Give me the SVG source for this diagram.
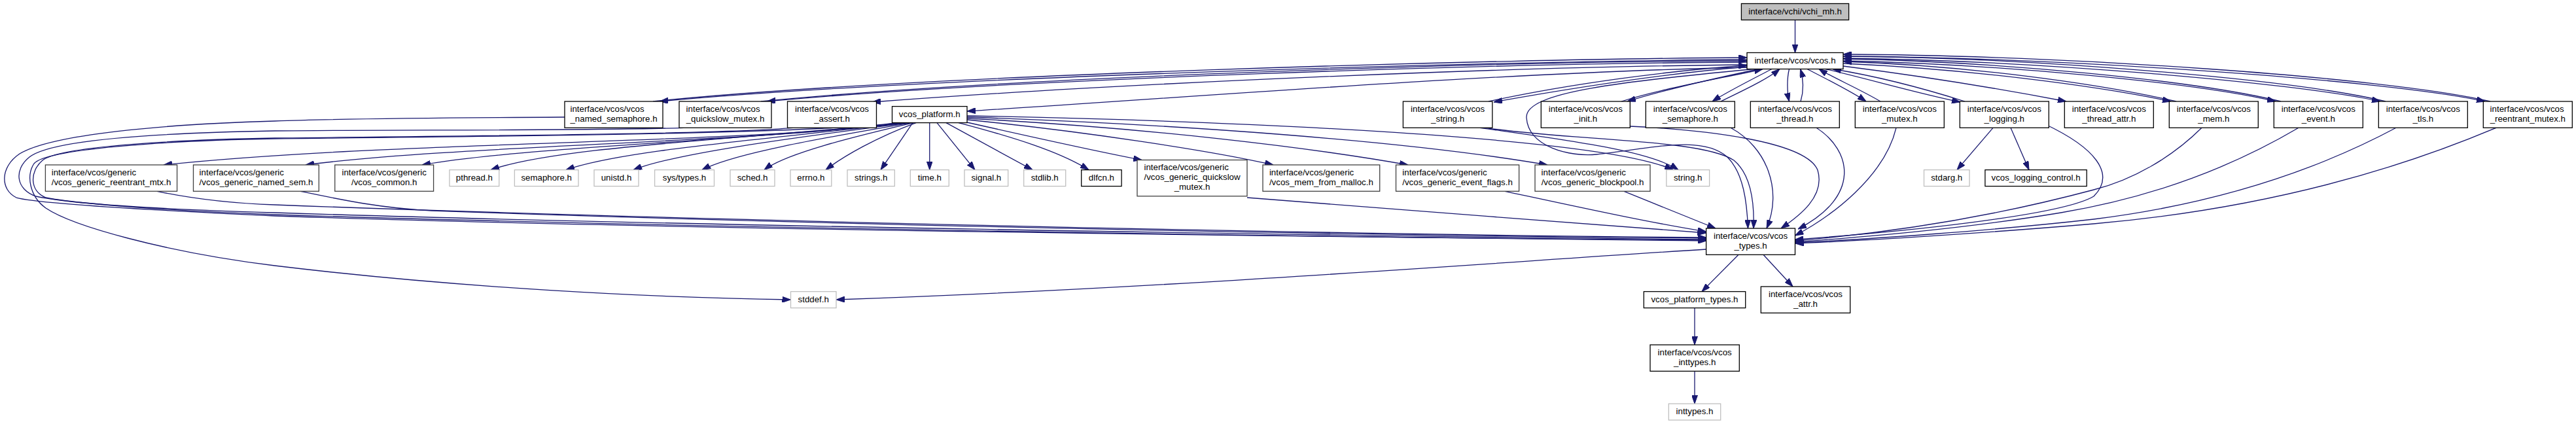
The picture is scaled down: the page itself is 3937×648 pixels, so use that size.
<svg xmlns="http://www.w3.org/2000/svg" width="3937" height="648" viewBox="0 0 3937 648">
<style>
rect{fill:#fff;stroke:#000;stroke-width:1.3}
.x rect{stroke:#bfbfbf}
.g rect{stroke:#404040}
.root rect{fill:#bfbfbf}
text{font-family:"Liberation Sans",Arial,Helvetica,sans-serif;font-size:13.3px;fill:#000}
.m{text-anchor:middle}
#edges path{fill:none;stroke:#191970;stroke-width:1.3;marker-end:url(#ah)}
</style>
<defs>
<marker id="ah" markerWidth="13" markerHeight="9" refX="13" refY="4.5" orient="auto" markerUnits="userSpaceOnUse"><path d="M0,0 L13,4.5 L0,9 z" fill="#191970" stroke="#191970" stroke-width="1"/></marker>
</defs>
<rect x="0" y="0" width="3937" height="648" style="fill:#fff;stroke:none"/>
<g id="edges">
<path d="M2743.5,30.5 V80.5"/>
<path d="M2670,91 C2300,93 1400,118 1008,155"/>
<path d="M998,155 C1400,114 2300,90 2670,88"/>
<path d="M2670,95 C2300,97 1550,120 1172,155"/>
<path d="M1163,155 C1550,117 2300,94 2670,93"/>
<path d="M2670,99 C2300,102 1700,128 1333,156"/>
<path d="M2670,103 C2300,110 1800,150 1478,170"/>
<path d="M2670,102 C2550,112 2400,135 2283,156"/>
<path d="M2275,155 C2400,128 2550,108 2670,100"/>
<path d="M2688,105.5 C2620,120 2540,138 2487,155"/>
<path d="M2478,155 C2540,135 2640,118 2694,105.5"/>
<path d="M2708,105.5 C2680,120 2640,140 2617,155"/>
<path d="M2630,155 C2660,140 2700,122 2720,105.5"/>
<path d="M2734.5,105.5 C2731,120 2731,140 2734.5,155"/>
<path d="M2752,155 C2757,138 2756,120 2751.5,105.5"/>
<path d="M2762,105.5 C2790,120 2830,140 2852,155"/>
<path d="M2874,155 C2840,135 2800,118 2780,105.5"/>
<path d="M2790,105.5 C2860,122 2940,145 2996,156"/>
<path d="M3003,155 C2930,132 2860,115 2801,105.5"/>
<path d="M2817,101 C2950,118 3080,140 3158,155"/>
<path d="M2817,97 C3000,105 3200,130 3318,155"/>
<path d="M3326,155 C3200,126 3000,100 2817,94"/>
<path d="M2817,93 C3050,98 3350,125 3478,155"/>
<path d="M3486,155 C3350,122 3050,94 2817,90"/>
<path d="M2817,89 C3100,92 3500,125 3638,155"/>
<path d="M3646,155 C3500,120 3100,88 2817,86"/>
<path d="M2817,86 C3150,88 3650,122 3798,155"/>
<path d="M3806,155 C3650,118 3150,84 2817,83"/>
<path d="M2680,105.5 C2480,125 2330,140 2333,180 C2336,225 2400,240 2440,236 C2520,228 2600,205 2640,240 C2665,265 2670,310 2671.5,349"/>
<path d="M2270,195.3 C2400,215 2600,212 2650,245 C2680,270 2681,320 2680,349"/>
<path d="M2262,195.3 C2400,215 2520,230 2565,259.6"/>
<path d="M2491,193 C2600,198 2760,215 2778,260 C2790,300 2750,330 2722,349"/>
<path d="M2645,195.3 C2700,225 2725,290 2700,349"/>
<path d="M2776,195.3 C2830,230 2845,300 2748,350"/>
<path d="M2898,195.3 C2880,270 2800,330 2743.5,360"/>
<path d="M3046,195.3 L2991,259.6"/>
<path d="M3073,195.3 L3101,259.6"/>
<path d="M3126,190 C3200,225 3235,265 3200,300 C3150,330 2900,355 2743.5,366"/>
<path d="M3365,195.3 C3320,240 3260,275 3200,290 C3050,330 2900,355 2743.5,368"/>
<path d="M3513,195.3 C3420,250 3300,300 3150,325 C3000,350 2850,362 2743.5,370"/>
<path d="M3662,195.3 C3550,255 3400,310 3200,335 C3050,352 2850,366 2743.5,371"/>
<path d="M3815,195.3 C3650,265 3450,320 3200,342 C3050,355 2850,368 2743.5,372"/>
<path d="M863,179 C650,180 500,182 420,185 C250,190 80,205 30,235 C0,255 0,290 25,302 C60,312 250,322 420,330 C1000,350 2000,362 2607.6,367"/>
<path d="M1045,195.3 C900,200 600,198 420,200 C250,203 80,212 45,240 C20,260 25,290 55,300 C100,310 250,322 420,328 C1000,347 2000,362 2607.6,368"/>
<path d="M1212,195.3 C1100,205 700,208 420,211 C250,214 90,225 65,245 C45,262 45,292 70,302 C120,312 250,320 420,325 C1000,344 2000,360 2607.6,366"/>
<path d="M1370,187.6 C1250,205 700,209 420,212 C250,215 70,228 52,250 C40,268 45,300 70,318 C110,345 250,385 420,406 C700,440 1000,455 1208.5,458"/>
<path d="M1372,187.6 C1150,220 600,215 250,252"/>
<path d="M1378,187.6 C1150,218 700,222 467,252"/>
<path d="M1382,187.6 C1100,218 800,225 645,252"/>
<path d="M1385,187.6 C1100,215 850,225 750,259.6"/>
<path d="M1388,187.6 C1150,215 950,230 865,259.6"/>
<path d="M1390,187.6 C1200,212 1030,235 968,259.6"/>
<path d="M1393,187.6 C1250,212 1120,235 1073,259.6"/>
<path d="M1396,187.6 C1300,210 1200,235 1168,259.6"/>
<path d="M1400,187.6 C1340,210 1290,238 1262,259.6"/>
<path d="M1395,187.6 L1346,259.6"/>
<path d="M1420.75,187.6 V259.6"/>
<path d="M1432,187.6 L1490,259.6"/>
<path d="M1446,187.6 L1578,259.6"/>
<path d="M1465,187.6 C1550,210 1620,232 1664,259.6"/>
<path d="M1478,187 C1580,210 1680,232 1745,244.5"/>
<path d="M1478,183 C1650,200 1850,230 1946,252"/>
<path d="M1478,181 C1750,195 2000,225 2152,252"/>
<path d="M1478,179 C1800,190 2150,215 2365,252"/>
<path d="M1478,177 C1900,185 2450,210 2557,259.6"/>
<path d="M240,292.3 C300,305 360,311 420,313 C1000,335 2000,358 2607.6,363"/>
<path d="M459,292.3 C520,305 580,318 660,322 C1300,345 2100,360 2607.6,364"/>
<path d="M1906,302 C2100,318 2400,340 2607.6,356"/>
<path d="M2300,292.3 C2420,318 2520,340 2607.6,354"/>
<path d="M2482,292.3 C2530,312 2585,334 2622,349"/>
<path d="M2657,389.3 L2601,445.6"/>
<path d="M2695,389.3 L2740,438"/>
<path d="M2607.6,381 C2300,400 1800,440 1278,458"/>
<path d="M2590,470.6 V527"/>
<path d="M2590,567.3 V617"/>
</g>
<g id="n_vchi_mh" class="root"><rect x="2661.4" y="5.5" width="164.2" height="25"/><text class="m" x="2743.5" y="22">interface/vchi/vchi_mh.h</text></g>
<g id="n_vcos"><rect x="2670" y="80.5" width="147" height="25"/><text class="m" x="2743.5" y="97">interface/vcos/vcos.h</text></g>
<g id="n_named_semaphore"><rect x="863" y="155" width="150" height="40.3"/><text x="871.5" y="170.6">interface/vcos/vcos</text><text class="m" x="938" y="185.6">_named_semaphore.h</text></g>
<g id="n_quickslow_mutex"><rect x="1038" y="155" width="141" height="40.3"/><text x="1048.6" y="170.6">interface/vcos/vcos</text><text class="m" x="1108.5" y="185.6">_quickslow_mutex.h</text></g>
<g id="n_assert"><rect x="1203.5" y="155" width="136" height="40.3"/><text class="m" x="1271.5" y="170.6">interface/vcos/vcos</text><text class="m" x="1271.5" y="185.6">_assert.h</text></g>
<g id="n_platform"><rect x="1363.5" y="162.6" width="114.5" height="25"/><text class="m" x="1420.75" y="179">vcos_platform.h</text></g>
<g id="n_string"><rect x="2144.4" y="155" width="136.4" height="40.3"/><text class="m" x="2212.6" y="170.6">interface/vcos/vcos</text><text class="m" x="2212.6" y="185.6">_string.h</text></g>
<g id="n_init"><rect x="2355.3" y="155" width="136" height="40.3"/><text class="m" x="2423.3" y="170.6">interface/vcos/vcos</text><text class="m" x="2423.3" y="185.6">_init.h</text></g>
<g id="n_semaphore"><rect x="2515.3" y="155" width="136" height="40.3"/><text class="m" x="2583.3" y="170.6">interface/vcos/vcos</text><text class="m" x="2583.3" y="185.6">_semaphore.h</text></g>
<g id="n_thread"><rect x="2675.3" y="155" width="136" height="40.3"/><text class="m" x="2743.3" y="170.6">interface/vcos/vcos</text><text class="m" x="2743.3" y="185.6">_thread.h</text></g>
<g id="n_mutex"><rect x="2835.3" y="155" width="136" height="40.3"/><text class="m" x="2903.3" y="170.6">interface/vcos/vcos</text><text class="m" x="2903.3" y="185.6">_mutex.h</text></g>
<g id="n_logging"><rect x="2995.3" y="155" width="136" height="40.3"/><text class="m" x="3063.3" y="170.6">interface/vcos/vcos</text><text class="m" x="3063.3" y="185.6">_logging.h</text></g>
<g id="n_thread_attr"><rect x="3155.3" y="155" width="136" height="40.3"/><text class="m" x="3223.3" y="170.6">interface/vcos/vcos</text><text class="m" x="3223.3" y="185.6">_thread_attr.h</text></g>
<g id="n_mem"><rect x="3315.3" y="155" width="136" height="40.3"/><text class="m" x="3383.3" y="170.6">interface/vcos/vcos</text><text class="m" x="3383.3" y="185.6">_mem.h</text></g>
<g id="n_event"><rect x="3475.3" y="155" width="136" height="40.3"/><text class="m" x="3543.3" y="170.6">interface/vcos/vcos</text><text class="m" x="3543.3" y="185.6">_event.h</text></g>
<g id="n_tls"><rect x="3635.3" y="155" width="136" height="40.3"/><text class="m" x="3703.3" y="170.6">interface/vcos/vcos</text><text class="m" x="3703.3" y="185.6">_tls.h</text></g>
<g id="n_reentrant_mutex"><rect x="3795.3" y="155" width="136" height="40.3"/><text x="3805.6" y="170.6">interface/vcos/vcos</text><text class="m" x="3863.3" y="185.6">_reentrant_mutex.h</text></g>
<g id="n_g_reentrant_mtx" class="g"><rect x="69.4" y="252" width="201.2" height="40.3"/><text x="78.7" y="267.6">interface/vcos/generic</text><text class="m" x="170" y="282.6">/vcos_generic_reentrant_mtx.h</text></g>
<g id="n_g_named_sem" class="g"><rect x="295.5" y="252" width="191.9" height="40.3"/><text x="304.6" y="267.6">interface/vcos/generic</text><text class="m" x="391.45" y="282.6">/vcos_generic_named_sem.h</text></g>
<g id="n_g_common" class="g"><rect x="511.8" y="252" width="150.8" height="40.3"/><text class="m" x="587.2" y="267.6">interface/vcos/generic</text><text class="m" x="587.2" y="282.6">/vcos_common.h</text></g>
<g id="n_pthread" class="x"><rect x="687" y="259.6" width="75.8" height="25"/><text class="m" x="724.9" y="276">pthread.h</text></g>
<g id="n_semaphore_sys" class="x"><rect x="786.4" y="259.6" width="97.6" height="25"/><text class="m" x="835.2" y="276">semaphore.h</text></g>
<g id="n_unistd" class="x"><rect x="908" y="259.6" width="68" height="25"/><text class="m" x="942" y="276">unistd.h</text></g>
<g id="n_systypes" class="x"><rect x="1000.6" y="259.6" width="90.9" height="25"/><text class="m" x="1046" y="276">sys/types.h</text></g>
<g id="n_sched" class="x"><rect x="1116" y="259.6" width="68" height="25"/><text class="m" x="1150" y="276">sched.h</text></g>
<g id="n_errno" class="x"><rect x="1208" y="259.6" width="62.8" height="25"/><text class="m" x="1239.4" y="276">errno.h</text></g>
<g id="n_strings" class="x"><rect x="1295" y="259.6" width="72.3" height="25"/><text class="m" x="1331.2" y="276">strings.h</text></g>
<g id="n_time" class="x"><rect x="1391.3" y="259.6" width="59" height="25"/><text class="m" x="1420.8" y="276">time.h</text></g>
<g id="n_signal" class="x"><rect x="1474" y="259.6" width="66.7" height="25"/><text class="m" x="1507.35" y="276">signal.h</text></g>
<g id="n_stdlib" class="x"><rect x="1564.7" y="259.6" width="64" height="25"/><text class="m" x="1596.7" y="276">stdlib.h</text></g>
<g id="n_dlfcn"><rect x="1652.7" y="259.6" width="61.4" height="25"/><text class="m" x="1683.4" y="276">dlfcn.h</text></g>
<g id="n_g_quickslow" class="g"><rect x="1738" y="244.5" width="168" height="55.3"/><text x="1748.5" y="260.1">interface/vcos/generic</text><text x="1748.5" y="275.1">/vcos_generic_quickslow</text><text class="m" x="1822" y="290.1">_mutex.h</text></g>
<g id="n_g_mem_from_malloc" class="g"><rect x="1930" y="252" width="178.7" height="40.3"/><text x="1939.9" y="267.6">interface/vcos/generic</text><text class="m" x="2019.35" y="282.6">/vcos_mem_from_malloc.h</text></g>
<g id="n_g_event_flags" class="g"><rect x="2133.5" y="252" width="188.1" height="40.3"/><text x="2143.3" y="267.6">interface/vcos/generic</text><text class="m" x="2227.55" y="282.6">/vcos_generic_event_flags.h</text></g>
<g id="n_g_blockpool" class="g"><rect x="2346" y="252" width="176" height="40.3"/><text x="2355.6" y="267.6">interface/vcos/generic</text><text class="m" x="2434" y="282.6">/vcos_generic_blockpool.h</text></g>
<g id="n_string_sys" class="x"><rect x="2546.8" y="259.6" width="65.8" height="25"/><text class="m" x="2579.7" y="276">string.h</text></g>
<g id="n_stdarg" class="x"><rect x="2940.5" y="259.6" width="69.5" height="25"/><text class="m" x="2975.25" y="276">stdarg.h</text></g>
<g id="n_logging_control"><rect x="3033.9" y="259.6" width="155.3" height="25"/><text class="m" x="3111.55" y="276">vcos_logging_control.h</text></g>
<g id="n_types"><rect x="2607.6" y="349" width="135.9" height="40.3"/><text class="m" x="2675.55" y="364.6">interface/vcos/vcos</text><text class="m" x="2675.55" y="379.6">_types.h</text></g>
<g id="n_stddef" class="x"><rect x="1208.5" y="445.6" width="69.5" height="25"/><text class="m" x="1243.25" y="462">stddef.h</text></g>
<g id="n_platform_types"><rect x="2512.3" y="445.6" width="155.4" height="25"/><text class="m" x="2590" y="462">vcos_platform_types.h</text></g>
<g id="n_attr"><rect x="2691.3" y="438" width="136.4" height="40.3"/><text class="m" x="2759.5" y="453.6">interface/vcos/vcos</text><text class="m" x="2759.5" y="468.6">_attr.h</text></g>
<g id="n_inttypes_vcos"><rect x="2522" y="527" width="136.3" height="40.3"/><text class="m" x="2590.15" y="542.6">interface/vcos/vcos</text><text class="m" x="2590.15" y="557.6">_inttypes.h</text></g>
<g id="n_inttypes" class="x"><rect x="2550.3" y="617" width="79.4" height="25"/><text class="m" x="2590" y="633.4">inttypes.h</text></g>
</svg>
